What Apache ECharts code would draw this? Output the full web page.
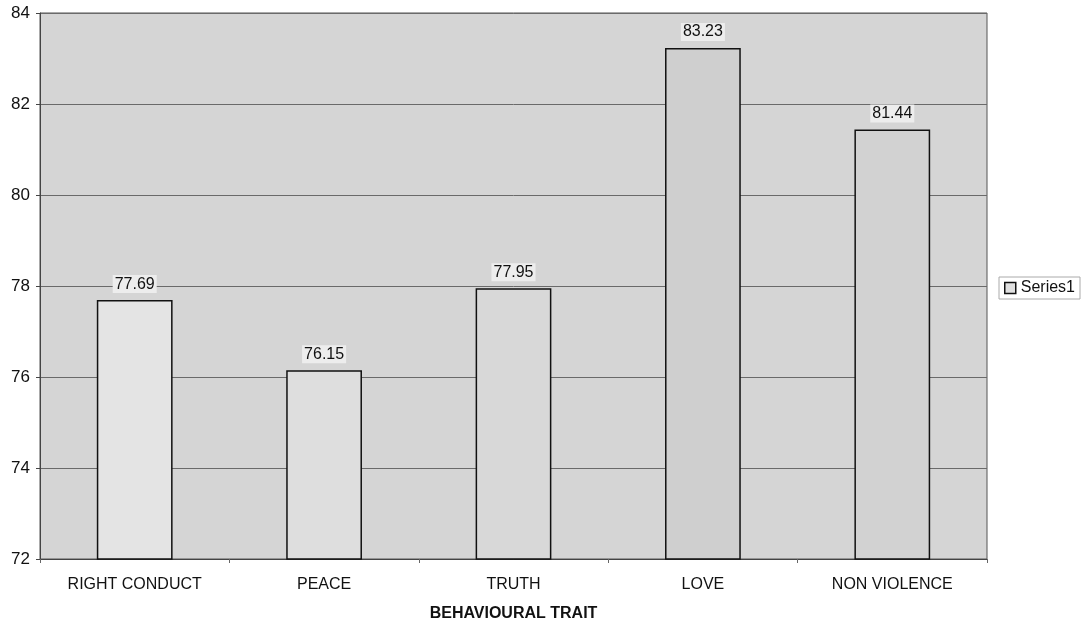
<!DOCTYPE html>
<html><head><meta charset="utf-8">
<script src="https://cdn.jsdelivr.net/npm/echarts@6/dist/echarts.min.js"></script>
<style>html,body{margin:0;padding:0;background:#fff}#c{width:1082px;height:621px}</style>
</head><body><div id="c"></div>
<script>
const categories = ["RIGHT CONDUCT", "PEACE", "TRUTH", "LOVE", "NON VIOLENCE"];
const values = [77.69, 76.15, 77.95, 83.23, 81.44];
const yTicks = [72, 74, 76, 78, 80, 82, 84];
const barColors = ["#e4e4e4", "#dedede", "#d8d8d8", "#cfcfcf", "#d2d2d2"];

const chart = echarts.init(document.getElementById('c'));
chart.setOption({
  backgroundColor: '#fff',
  animation: false,
  textStyle: { fontFamily: 'Liberation Sans, Arial, sans-serif' },
  grid: { left: 40, right: 95, top: 13, bottom: 62, outerBoundsMode: 'none', containLabel: false,
    show: true, backgroundColor: '#d5d5d5', borderColor: '#555', borderWidth: 1 },
  legend: {
    show: true, right: 2, top: 277, orient: 'vertical',
    borderColor: '#aaa', borderWidth: 1, padding: [3, 5, 3, 5],
    itemWidth: 11, itemHeight: 11, itemGap: 4,
    textStyle: { fontSize: 16, color: '#111' },
    data: [{ name: 'Series1', icon: 'rect', itemStyle: { color: '#e0e0e0', borderColor: '#111', borderWidth: 1.5 } }]
  },
  xAxis: {
    type: 'category', data: categories,
    name: 'BEHAVIOURAL TRAIT', nameLocation: 'middle', nameGap: 47,
    nameTextStyle: { fontSize: 16, fontWeight: 'bold', color: '#111' },
    axisLine: { lineStyle: { color: '#444' } },
    axisTick: { show: true, alignWithLabel: false, length: 4, lineStyle: { color: '#666' } },
    axisLabel: { fontSize: 16, color: '#111', margin: 18 }
  },
  yAxis: {
    type: 'value', min: yTicks[0], max: yTicks[yTicks.length - 1], interval: 2,
    axisLine: { show: true, lineStyle: { color: '#444' } },
    axisTick: { show: true, length: 4, lineStyle: { color: '#444' } },
    axisLabel: { fontSize: 17, color: '#111', margin: 10 },
    splitLine: { lineStyle: { color: '#6a6a6a', width: 1 } }
  },
  series: [{
    name: 'Series1', type: 'bar', barWidth: '40%',
    data: values.map((v, i) => ({ value: v, itemStyle: { color: barColors[i] } })),
    itemStyle: { borderColor: '#111', borderWidth: 1.5 },
    label: { show: true, position: 'top', distance: 7, fontSize: 16, color: '#111',
      backgroundColor: '#ededed', padding: [1, 2], formatter: p => p.value.toFixed(2) }
  }]
});
</script></body></html>
